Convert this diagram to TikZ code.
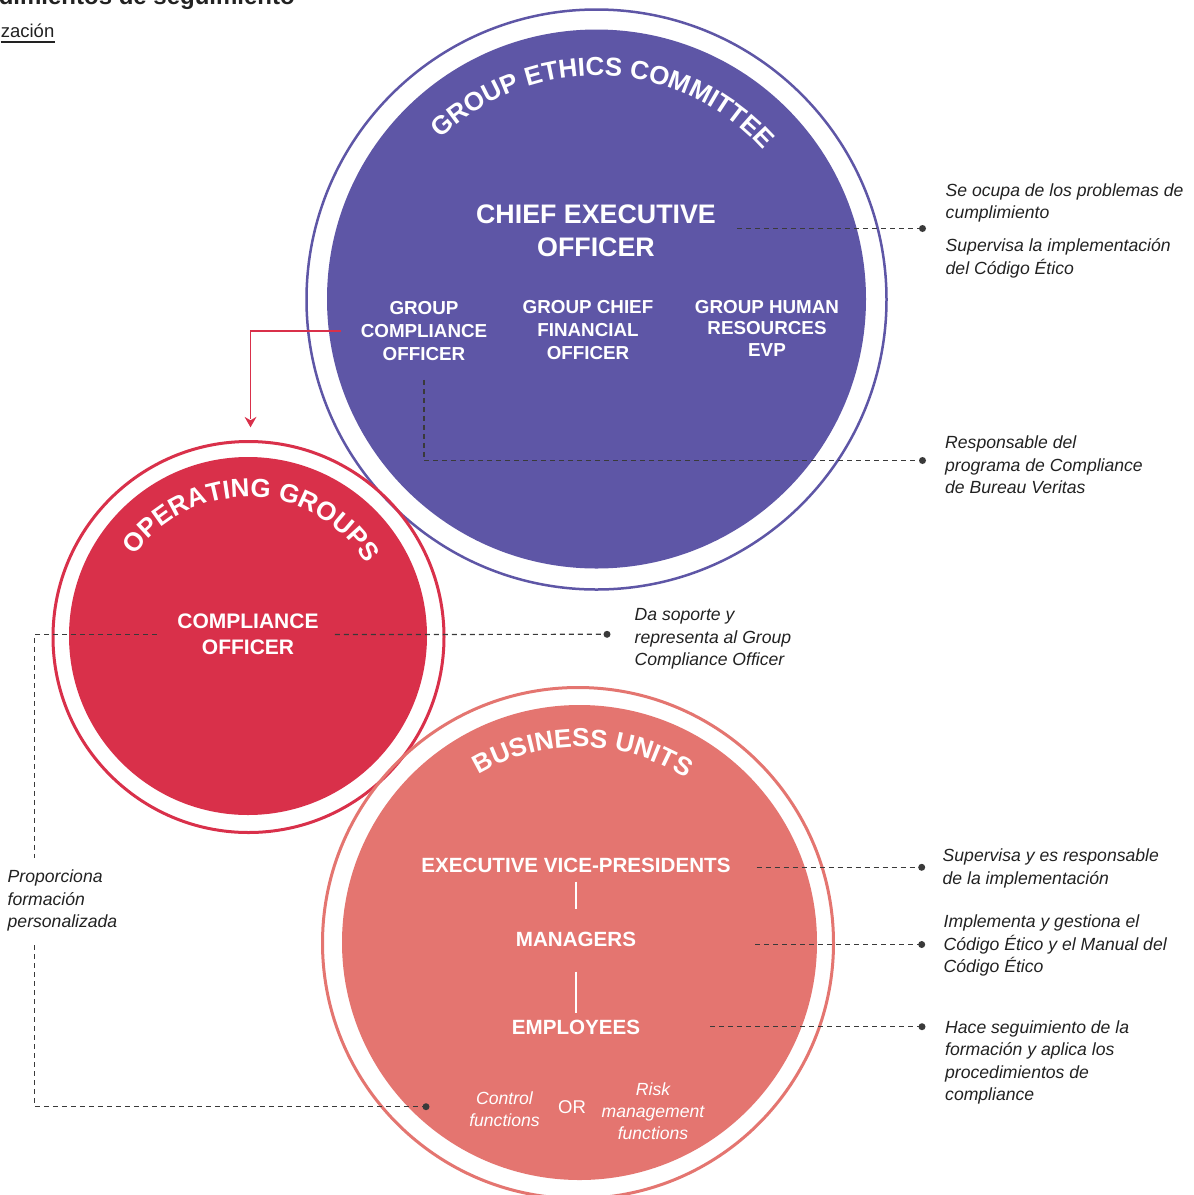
\documentclass[tikz,border=0pt]{standalone}
\usepackage{fontspec}
\setmainfont{Liberation Sans}
\usepackage{tikz}
\usetikzlibrary{decorations.text}
\definecolor{gecpurple}{HTML}{5E56A6}
\definecolor{ogred}{HTML}{D9304A}
\definecolor{busalmon}{HTML}{E47570}
\definecolor{notegray}{HTML}{222222}
\definecolor{leadgray}{HTML}{3A3A3A}
\newcommand{\ringfont}{\color{white}\bfseries\fontsize{26}{26}\selectfont}

\begin{document}
\begin{tikzpicture}[x=1pt,y=1pt]
    \tikzstyle{every node}+=[inner sep=0pt]
    \tikzstyle{lead}=[leadgray, line width=1.2pt, dash pattern=on 5pt off 4pt]
    \tikzstyle{role}=[white, align=center]
    \tikzstyle{unit}=[role, font=\bfseries\fontsize{20.6}{24}\selectfont]
    \tikzstyle{func}=[role, font=\itshape\fontsize{17.6}{22}\selectfont]
    \tikzstyle{note}=[notegray, anchor=west, align=left, font=\itshape\fontsize{17.6}{22.6}\selectfont]
    \path [use as bounding box, fill=white] (0,0) rectangle (1194,-1195);
    \node [anchor=base east, notegray, font=\bfseries\fontsize{24}{24}\selectfont] (ttl) at (295,-4.5) {dimientos de seguimiento};
    \node [anchor=base east, notegray, font=\fontsize{18.5}{18.5}\selectfont] (sub) at (54.5,-37.3) {zación};
    \draw [notegray, line width=1.2pt] ([yshift=-4.3pt]sub.south west) -- ([yshift=-4.3pt]sub.south east);
    \fill [gecpurple] (596.5,-299) circle (269.5);
    \draw [gecpurple, line width=2.5pt] (596.5,-299.5) circle (290);
    \fill [ogred] (248,-636) circle (179);
    \draw [ogred, line width=3pt] (248.5,-637) circle (195.5);
    \fill [busalmon] (579.5,-942.5) circle (237.5);
    \draw [busalmon, line width=3pt] (578,-943) circle (255.5);
    \path [decorate, decoration={text along path, text align=center, text={|\ringfont|GROUP ETHICS COMMITTEE}}]
        (596.5,-299) ++(178:223.5) arc [start angle=178, end angle=-2, radius=223.5];
    \path [decorate, decoration={text along path, text align=center, text={|\ringfont|OPERATING GROUPS}}]
        (248,-636) ++(178:139) arc [start angle=178, end angle=-2, radius=139];
    \path [decorate, decoration={text along path, text align=center, text={|\ringfont|BUSINESS UNITS}}]
        (579.5,-942.5) ++(179:195.5) arc [start angle=179, end angle=-1, radius=195.5];
    \node [role, font=\bfseries\fontsize{26.8}{32.4}\selectfont] (ceo) at (596,-230.7) {CHIEF EXECUTIVE\\OFFICER};
    \node [role, font=\bfseries\fontsize{18.8}{22.9}\selectfont] (gco) at (424,-331) {GROUP\\COMPLIANCE\\OFFICER};
    \node [role, font=\bfseries\fontsize{18.8}{22.9}\selectfont] (gcfo) at (588,-330) {GROUP CHIEF\\FINANCIAL\\OFFICER};
    \node [role, font=\bfseries\fontsize{18.8}{21.3}\selectfont] (ghr) at (767,-328.3) {GROUP HUMAN\\RESOURCES\\EVP};
    \node [role, font=\bfseries\fontsize{21}{26}\selectfont] (co) at (248,-634.5) {COMPLIANCE\\OFFICER};
    \node [unit] (evp) at (576,-865.2) {EXECUTIVE VICE-PRESIDENTS};
    \node [unit] (mgr) at (576,-939.2) {MANAGERS};
    \node [unit] (emp) at (576,-1027.5) {EMPLOYEES};
    \node [func] (ctrl) at (504.5,-1109.5) {Control\\functions};
    \node [role, font=\fontsize{18.5}{22}\selectfont] (or) at (572,-1107.3) {OR};
    \node [func] (risk) at (653,-1111.5) {Risk\\management\\functions};
    \node [note] (n1) at (945.5,-230.8) {Se ocupa de los problemas de\\cumplimiento\\[10.2pt]Supervisa la implementación\\del Código Ético};
    \node [note] (n2) at (945,-465.1) {Responsable del\\programa de Compliance\\de Bureau Veritas};
    \node [note] (n3) at (634.5,-638.8) {Da soporte y\\representa al Group\\Compliance Officer};
    \node [note] (n4) at (942.5,-868.3) {Supervisa y es responsable\\de la implementación};
    \node [note] (n5) at (943.5,-945.5) {Implementa y gestiona el\\Código Ético y el Manual del\\Código Ético};
    \node [note] (n6) at (945,-1062.5) {Hace seguimiento de la\\formación y aplica los\\procedimientos de\\compliance};
    \node [note] (n7) at (7.5,-900.8) {Proporciona\\formación\\personalizada};
    \coordinate (d1) at (922.5,-228.5);
    \coordinate (d2) at (922.5,-460.5);
    \coordinate (d3) at (607,-634.3);
    \coordinate (d4) at (921.7,-867.3);
    \coordinate (d5) at (921.7,-944.5);
    \coordinate (d6) at (922,-1026.7);
    \coordinate (d7) at (426,-1106.7);
    \coordinate (ptop) at (34.5,-858);
    \coordinate (pbot) at (34.5,-945);
    \coordinate (atip) at (250.5,-427.3);
    \draw [white, line width=1.3pt, shorten <=9pt, shorten >=23pt] (evp) -- (mgr);
    \draw [white, line width=1.3pt, shorten <=25pt, shorten >=7pt] (mgr) -- (emp);
    \draw [ogred, line width=1.3pt] ([xshift=-20pt]gco.west) -| ([yshift=8pt]atip);
    \fill [ogred] (atip) -- ++(-6,10.5) -- ++(6,-3.5) -- ++(6,3.5) -- cycle;
    \draw [lead] ([xshift=21pt,yshift=2.2pt]ceo.east) -- (d1);
    \draw [lead] ([yshift=-19pt]gco.south) |- (d2);
    \draw [lead] ([xshift=16pt]co.east) -- (d3);
    \draw [lead] ([xshift=-20pt]co.west) -| (ptop);
    \draw [lead] (pbot) |- (d7);
    \draw [lead] ([xshift=26pt,yshift=-2.1pt]evp.east) -- (d4);
    \draw [lead] ([xshift=119pt,yshift=-5.3pt]mgr.east) -- (d5);
    \draw [lead] ([xshift=70pt,yshift=0.8pt]emp.east) -- (d6);
    \foreach \d in {d1,d2,d3,d4,d5,d6,d7}
        \fill [leadgray] (\d) circle (3.5);
\end{tikzpicture}
\end{document}
